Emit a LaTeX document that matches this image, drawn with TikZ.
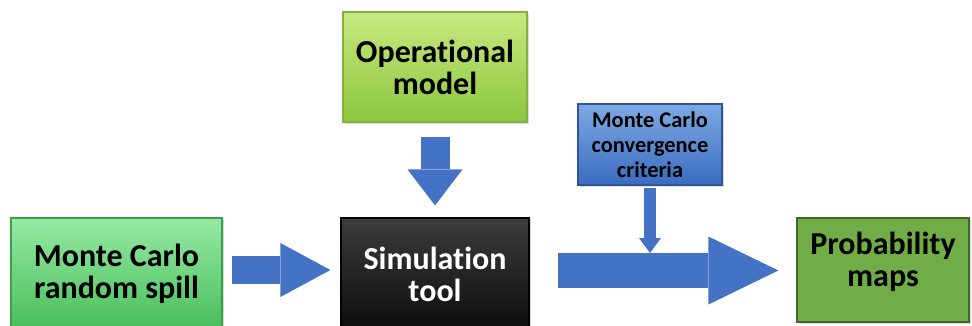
\documentclass[tikz,border=0pt]{standalone}
\usepackage{fontspec}
\setmainfont{Carlito}[Ligatures=NoCommon]
\usetikzlibrary{arrows.meta, shadows}

\definecolor{arrowblue}{HTML}{4472C4}
\definecolor{opTop}{HTML}{C8E97F}
\definecolor{opBot}{HTML}{8CC63E}
\definecolor{opLine}{HTML}{84B041}
\definecolor{convTop}{HTML}{7DAAE4}
\definecolor{convBot}{HTML}{3A6CBF}
\definecolor{convLine}{HTML}{2F5597}
\definecolor{spillTop}{HTML}{96E9A4}
\definecolor{spillBot}{HTML}{48BE5A}
\definecolor{spillLine}{HTML}{3AA04B}
\definecolor{simTop}{HTML}{3C3C3C}
\definecolor{simBot}{HTML}{0C0C0C}
\definecolor{probFill}{HTML}{70AD47}
\definecolor{probLine}{HTML}{41672B}

\begin{document}
\begin{tikzpicture}[x=1pt, y=1pt,
  box/.style={line width=1.2pt, align=center, inner sep=0pt,
    font=\bfseries\fontsize{32}{32}\selectfont,
    drop shadow={shadow xshift=2pt, shadow yshift=-2pt, opacity=0.3}},
  opbox/.style={box, draw=opLine, top color=opTop, bottom color=opBot},
  convbox/.style={box, draw=convLine, top color=convTop, bottom color=convBot,
    font=\bfseries\fontsize{22.4}{25}\selectfont},
  spillbox/.style={box, draw=spillLine, top color=spillTop, bottom color=spillBot},
  simbox/.style={box, draw=black, top color=simTop, bottom color=simBot, text=white},
  probbox/.style={box, draw=probLine, fill=probFill},
  blockarrow/.style n args={3}{draw=arrowblue, line width=#1,
    -{Triangle[width=#2, length=#3, line width=0pt]}}]

\clip (0,0) rectangle (972,-325);

% Boxes
\node[opbox, minimum width=184pt, minimum height=110pt] (opmodel) at (435,-67) {Operational\\model};
\node[convbox, minimum width=144pt, minimum height=81pt] (conv) at (650,-144.5) {Monte Carlo\\convergence\\criteria};
\node[spillbox, minimum width=211pt, minimum height=112pt] (spill) at (116.5,-274) {Monte Carlo\\random spill};
\node[simbox, minimum width=188pt, minimum height=112pt] (sim) at (435,-274) {Simulation\\tool};
\node[probbox, minimum width=172pt, minimum height=104pt, text depth=21pt] (prob) at (883,-270) {Probability\\maps};

% Block arrows
\draw[blockarrow={28pt}{54pt}{50pt}, shorten <=9pt, shorten >=10pt] ([yshift=4pt]spill.east) -- ([yshift=4pt]sim.west);
\draw[blockarrow={29pt}{55pt}{36pt}, shorten <=14pt, shorten >=12pt] (opmodel.south) -- (opmodel.south |- sim.north);
\draw[blockarrow={35pt}{68pt}{70pt}, shorten <=28pt, shorten >=18pt] ([yshift=3.5pt]sim.east) -- ([yshift=-0.5pt]prob.west);

% Convergence check joins the output arrow
\coordinate (join) at (650,-253);
\draw[blockarrow={12pt}{22pt}{15pt}, shorten <=2pt] (conv.south) -- (join);
\end{tikzpicture}
\end{document}
